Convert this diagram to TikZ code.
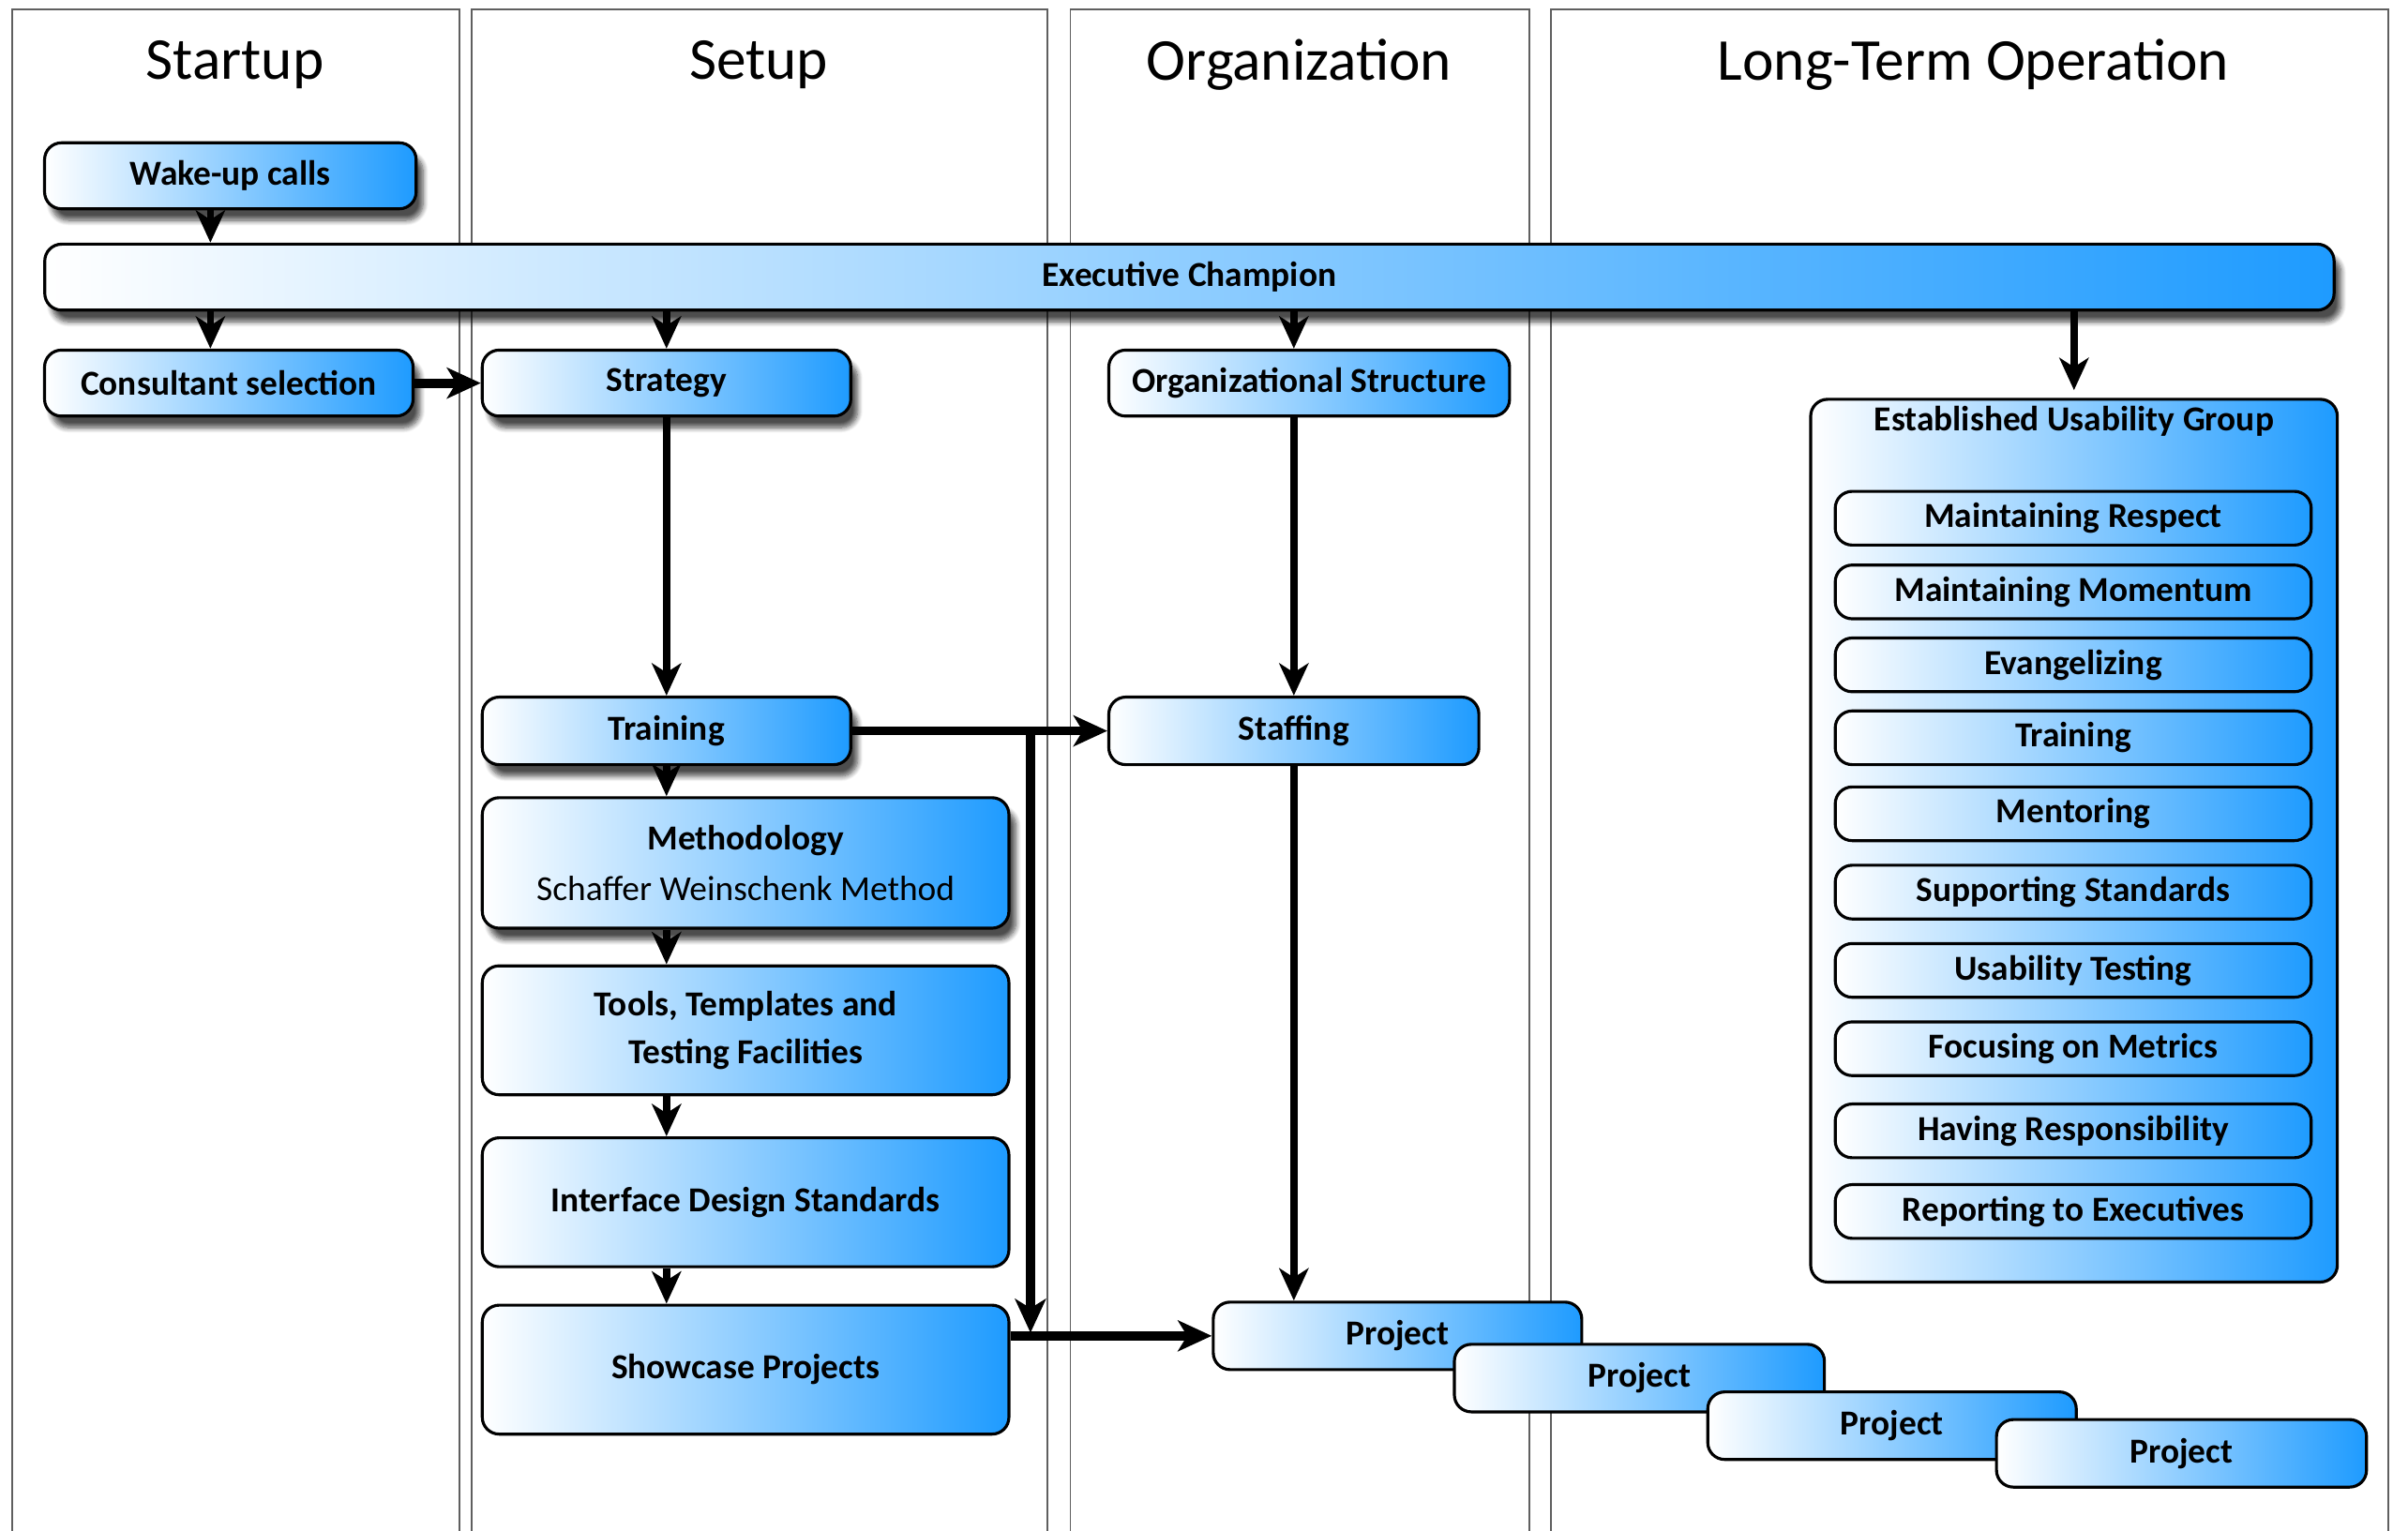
\documentclass[tikz,border=0pt]{standalone}
\usepackage{fontspec}
\setmainfont{Carlito}
\usetikzlibrary{arrows.meta,shadows.blur}
\definecolor{blueR}{RGB}{30,155,255}
\definecolor{laneC}{RGB}{95,95,95}
\tikzset{
  box/.style={draw=black, line width=1.1pt, rounded corners=0.22cm, left color=white, right color=blueR,
    inner sep=0pt, align=center, font=\fontsize{13}{17}\selectfont\bfseries},
  shad/.style={blur shadow={shadow xshift=0.09cm, shadow yshift=-0.15cm, shadow blur steps=8, shadow opacity=70}},
  lane/.style={draw=laneC, line width=0.6pt},
  lanetitle/.style={font=\fontsize{22}{26}\selectfont},
  arr/.style={line width=2.6pt, -{Stealth[length=0.42cm,width=0.38cm,inset=0.12cm]}},
  tarr/.style={line width=3.4pt, -{Stealth[length=0.44cm,width=0.4cm,inset=0.12cm]}},
}
\begin{document}
\begin{tikzpicture}[x=0.02cm,y=-0.02cm]
\useasboundingbox (0,0) rectangle (1568,997);
% lanes
\draw[lane] (8,1000) -- (8,6) -- (299,6) -- (299,1000);
\draw[lane] (307,1000) -- (307,6) -- (682,6) -- (682,1000);
\draw[lane] (697,1000) -- (697,6) -- (996,6) -- (996,1000);
\draw[lane] (1010,1000) -- (1010,6) -- (1555,6) -- (1555,1000);
\node[lanetitle] (t1) at (153,42) {Startup};
\node[lanetitle] (t2) at (494,42) {Setup};
\node[lanetitle] (t3) at (846,42) {Organization};
\node[lanetitle] (t4) at (1285,42) {Long-Term Operation};

% boxes
\node[box,shad,minimum width=4.84cm,minimum height=0.86cm] (wake) at (150,114.5) {Wake-up calls};
\node[box,shad,minimum width=29.82cm,minimum height=0.86cm] (exec) at (774.5,180.5) {Executive Champion};
\node[box,shad,minimum width=4.8cm,minimum height=0.86cm] (consult) at (149,249.5) {Consultant selection};
\node[box,shad,minimum width=4.8cm,minimum height=0.86cm] (strategy) at (434,249.5) {Strategy};
\node[box,minimum width=5.22cm,minimum height=0.86cm] (org) at (852.5,249.5) {Organizational Structure};
\node[box,shad,minimum width=4.8cm,minimum height=0.88cm] (training) at (434,476) {Training};
\node[box,minimum width=4.82cm,minimum height=0.88cm] (staffing) at (842.5,476) {Staffing};
\node[box,shad,minimum width=6.86cm,minimum height=1.7cm] (method) at (485.5,562) {Methodology\\[2pt]\mdseries Schaffer Weinschenk Method};
\node[box,minimum width=6.86cm,minimum height=1.68cm] (tools) at (485.5,671) {Tools, Templates and\\[1pt]Testing Facilities};
\node[box,minimum width=6.86cm,minimum height=1.68cm] (ids) at (485.5,783) {Interface Design Standards};
\node[box,minimum width=6.86cm,minimum height=1.68cm] (show) at (485.5,892) {Showcase Projects};

\node[box,minimum width=4.8cm,minimum height=0.88cm] (p1) at (910,870) {Project};
\node[box,minimum width=4.82cm,minimum height=0.88cm] (p2) at (1067.5,897.5) {Project};
\node[box,minimum width=4.8cm,minimum height=0.88cm] (p3) at (1232,928.5) {Project};
\node[box,minimum width=4.82cm,minimum height=0.88cm] (p4) at (1420.5,946.5) {Project};

\node[box,minimum width=6.86cm,minimum height=11.5cm,
  label={[anchor=north,font=\fontsize{13}{17}\selectfont\bfseries,yshift=0.02cm]north:Established Usability Group}] (eug) at (1350.5,547.5) {};
\foreach \n/\y/\t in {i1/337.5/Maintaining Respect, i2/385.5/Maintaining Momentum, i3/433/Evangelizing,
  i4/480.5/Training, i5/530/Mentoring, i6/581/Supporting Standards, i7/632/Usability Testing,
  i8/683/Focusing on Metrics, i9/736.5/Having Responsibility, i10/789/Reporting to Executives}
  \node[box,minimum width=6.2cm,minimum height=0.7cm] (\n) at (1350,\y) {\t};

% connectors
\coordinate (ax1) at (137,0);
\draw[arr] (ax1 |- wake.south) -- (ax1 |- exec.north);
\draw[arr] (ax1 |- exec.south) -- (ax1 |- consult.north);
\draw[arr] (strategy.north |- exec.south) -- (strategy.north);
\draw[arr] (staffing.north |- exec.south) -- (staffing.north |- org.north);
\draw[arr] (eug.north |- exec.south) -- ([yshift=0.1cm]eug.north);
\draw[tarr] (consult.east) -- (strategy.west);
\draw[arr] (strategy.south) -- (training.north);
\draw[arr] (staffing.north |- org.south) -- (staffing.north);
\draw[tarr] (training.east) -- (staffing.west);
\coordinate (brtop) at (671,476);
\coordinate (brbot) at (671,868);
\draw[tarr] (brtop) -- (brbot);
\draw[arr] (training.south) -- (training.south |- method.north);
\draw[arr] (training.south |- method.south) -- (training.south |- tools.north);
\draw[arr] (training.south |- tools.south) -- (training.south |- ids.north);
\draw[arr] (training.south |- ids.south) -- (training.south |- show.north);
\draw[arr] (staffing.south) -- (staffing.south |- p1.north);
\draw[tarr] (p1.west -| show.east) -- (p1.west);
\end{tikzpicture}
\end{document}
